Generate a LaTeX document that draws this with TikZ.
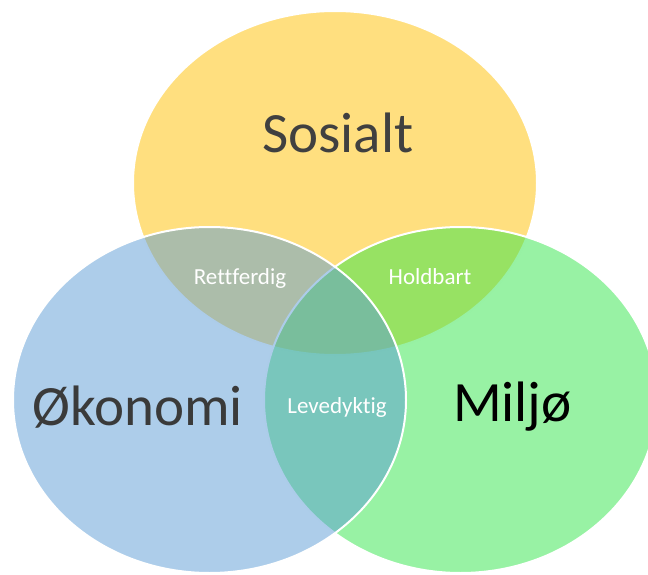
\documentclass[tikz,border=0pt]{standalone}
\usepackage{fontspec}
\setmainfont[Ligatures={NoCommon}]{Carlito}
\usetikzlibrary{shapes.geometric}
\definecolor{cyellow}{HTML}{FFC000}
\definecolor{cblue}{HTML}{5B9BD5}
\definecolor{cgreen}{RGB}{49,229,73}
\definecolor{darktext}{HTML}{404040}
\tikzset{
  circ/.style={ellipse, inner sep=0pt, draw=white, line width=2pt, fill opacity=0.5, draw opacity=1},
  bigtext/.style={anchor=base, inner sep=0pt, font=\fontsize{57}{60}\selectfont},
  smalltext/.style={anchor=base, inner sep=0pt, text=white, font=\fontsize{23}{26}\selectfont}
}
\begin{document}
\begin{tikzpicture}[x=1pt,y=-1pt]
\useasboundingbox (0,0) rectangle (648,575);
\clip (0,0) rectangle (648,575);
\node[circ, fill=cyellow, minimum width=404pt, minimum height=344pt] (soc) at (335,183) {};
\node[circ, fill=cgreen, minimum width=393pt, minimum height=346pt] (env) at (460.5,400) {};
\node[circ, fill=cblue, minimum width=393pt, minimum height=346pt] (eco) at (209.5,400) {};
\node[bigtext, text=darktext] (tsoc) at (338,153) {Sosialt};
\node[bigtext, text=darktext!90!black] (teco) at (137.5,425) {Økonomi};
\node[bigtext, text=black] (tenv) at (512.5,421) {Miljø};
\node[smalltext] (rett) at (240,284) {Rettferdig};
\node[smalltext] (hold) at (430,284) {Holdbart};
\node[smalltext] (leve) at (337,413) {Levedyktig};
\end{tikzpicture}
\end{document}
